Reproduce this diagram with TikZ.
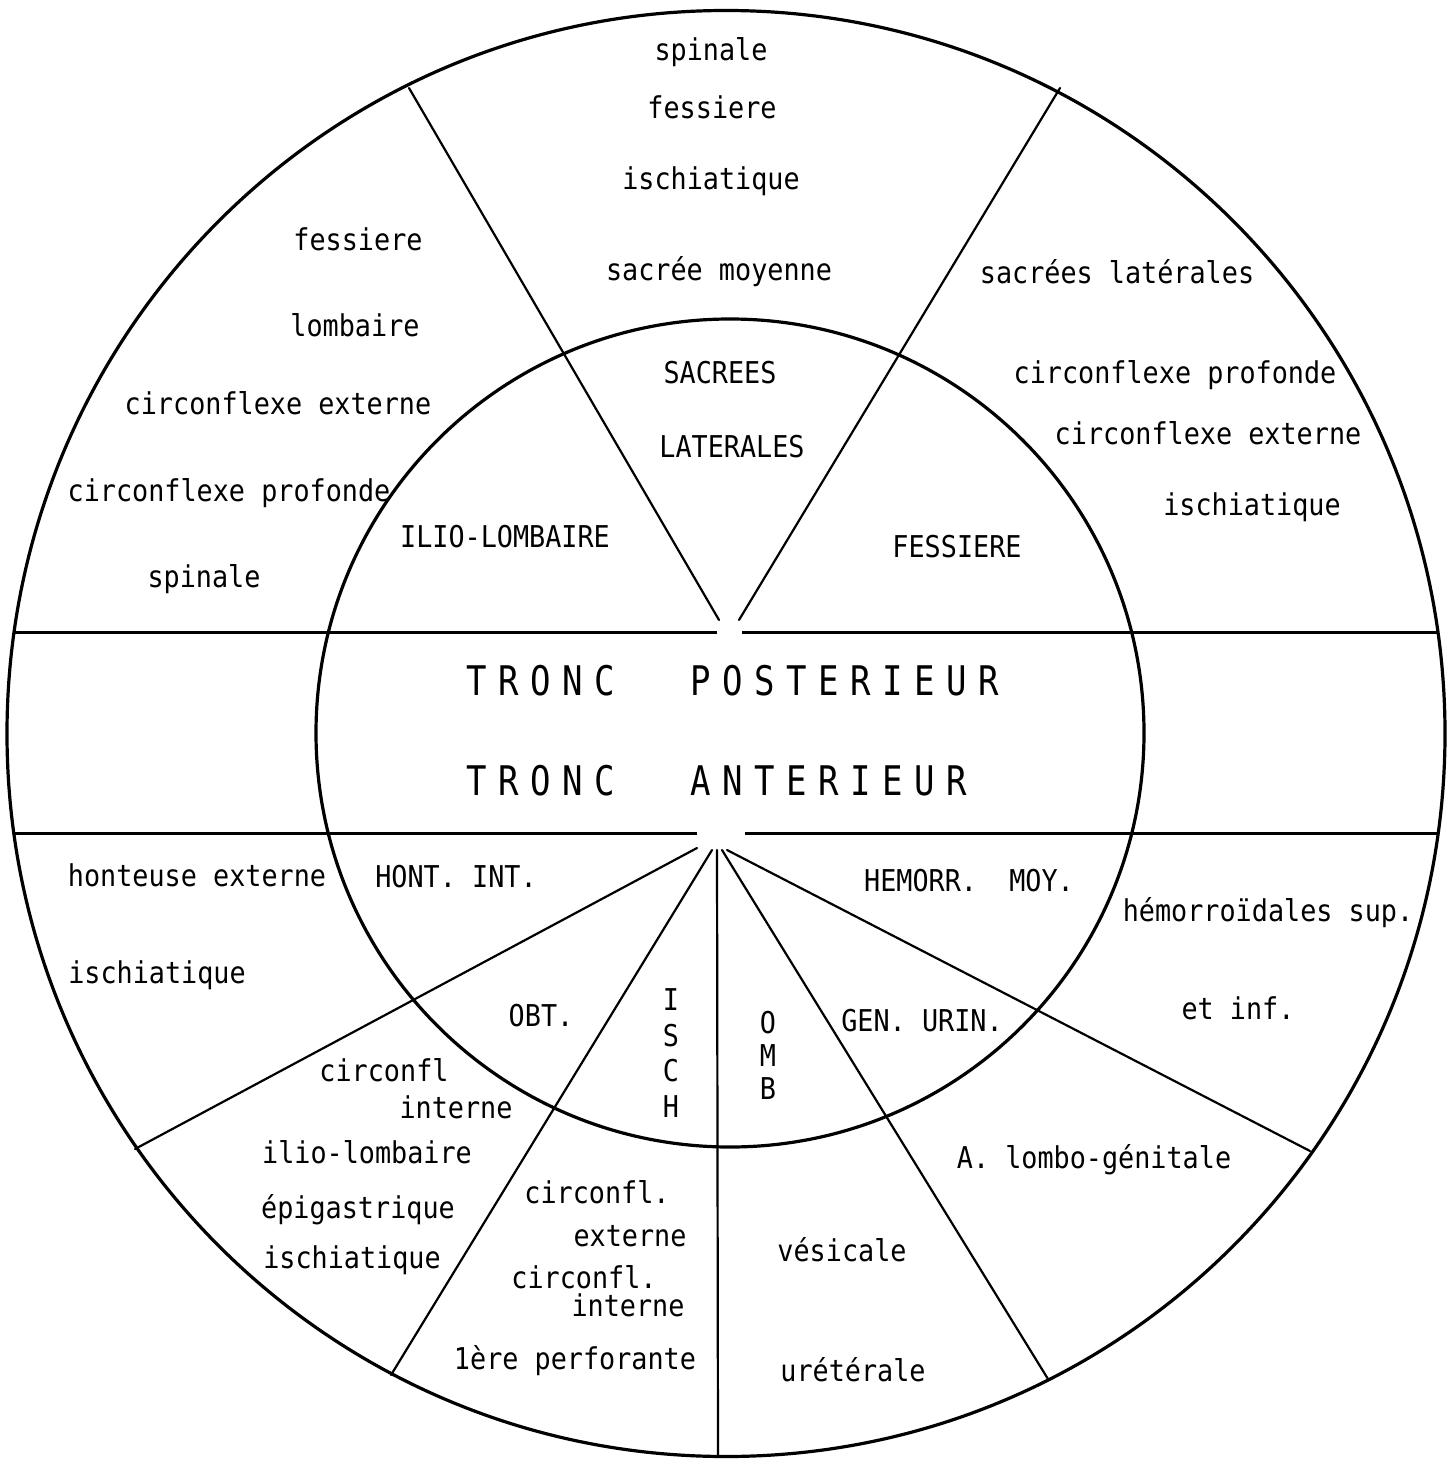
\documentclass[tikz,border=0pt]{standalone}
\usepackage{fontspec}
\newfontfamily\monof{DejaVu Sans Mono}
\newcommand\tx[1]{\scalebox{1}[1.12]{#1}}
\newcommand\ltr[1]{\makebox[16pt]{\scalebox{1}[1.2]{#1}}}
\begin{document}
\begin{tikzpicture}[x=0.5pt,y=-0.5pt,
  ring/.style={line width=1.6pt},
  sepline/.style={line width=1.5pt},
  ray/.style={line width=1.1pt, line cap=round},
  lbl/.style={inner sep=0pt, font=\monof\fontsize{13.4pt}{17.5pt}\selectfont, text height=11pt, text depth=0pt},
  vlbl/.style={inner sep=0pt, align=center, font=\monof\fontsize{13.4pt}{17.8pt}\selectfont},
  big/.style={inner sep=0pt, font=\monof\fontsize{17pt}{20pt}\selectfont, text height=15pt, text depth=0pt}]
\useasboundingbox (0,0) rectangle (1455,1460);
% circles
\coordinate (oc) at (726,733.5);
\coordinate (ic) at (730,733);
\draw[ring] (oc) ellipse [x radius=359.5pt, y radius=361.5pt];
\draw[ring] (ic) circle [radius=207pt];
% horizontal lines
\coordinate (h1a) at (14,632);  \coordinate (h1b) at (717,632);
\coordinate (h1c) at (742,632); \coordinate (h1d) at (1438,632);
\coordinate (h2a) at (14,833);  \coordinate (h2b) at (697,833);
\coordinate (h2c) at (745,833); \coordinate (h2d) at (1438,833);
\draw[sepline] (h1a) -- (h1b);
\draw[sepline] (h1c) -- (h1d);
\draw[sepline] (h2a) -- (h2b);
\draw[sepline] (h2c) -- (h2d);
% upper rays
\coordinate (u1s) at (719,620);  \coordinate (u1e) at (409,88);
\coordinate (u2s) at (739,620);  \coordinate (u2e) at (1060,88);
\draw[ray] (u1s) -- (u1e);
\draw[ray] (u2s) -- (u2e);
% lower rays
\coordinate (l1s) at (697,848); \coordinate (l1e) at (135,1149);
\coordinate (l2s) at (712,850); \coordinate (l2e) at (391,1375);
\coordinate (l3s) at (717,850); \coordinate (l3e) at (718,1457);
\coordinate (l4s) at (722,850); \coordinate (l4e) at (1048,1379);
\coordinate (l5s) at (727,850); \coordinate (l5e) at (1310,1151);
\draw[ray] (l1s) -- (l1e);
\draw[ray] (l2s) -- (l2e);
\draw[ray] (l3s) -- (l3e);
\draw[ray] (l4s) -- (l4e);
\draw[ray] (l5s) -- (l5e);
% central text
\node[big] (tp) at (733,680) {\ltr T\ltr R\ltr O\ltr N\ltr C\ltr{}\ltr{}\ltr P\ltr O\ltr S\ltr T\ltr E\ltr R\ltr I\ltr E\ltr U\ltr R};
\node[big] (ta) at (717,780) {\ltr T\ltr R\ltr O\ltr N\ltr C\ltr{}\ltr{}\ltr A\ltr N\ltr T\ltr E\ltr R\ltr I\ltr E\ltr U\ltr R};
% inner upper
\node[lbl] (sacA) at (720,372) {\tx{SACREES}};
\node[lbl] (sacB) at (732,446) {\tx{LATERALES}};
\node[lbl] (ilio) at (505,536) {\tx{ILIO-LOMBAIRE}};
\node[lbl] (fess) at (957,546) {\tx{FESSIERE}};
% outer upper left
\node[lbl] (ul1) at (358,240) {\tx{fessiere}};
\node[lbl] (ul2) at (355,325) {\tx{lombaire}};
\node[lbl] (ul3) at (278,404) {\tx{circonflexe externe}};
\node[lbl] (ul4) at (229,490) {\tx{circonflexe profonde}};
\node[lbl] (ul5) at (204,576) {\tx{spinale}};
% outer upper middle
\node[lbl] (um1) at (711,50) {\tx{spinale}};
\node[lbl] (um2) at (712,108) {\tx{fessiere}};
\node[lbl] (um3) at (711,179) {\tx{ischiatique}};
\node[lbl] (um4) at (719,270) {\tx{sacrée moyenne}};
% outer upper right
\node[lbl] (ur1) at (1117,273) {\tx{sacrées latérales}};
\node[lbl] (ur2) at (1175,372) {\tx{circonflexe profonde}};
\node[lbl] (ur3) at (1208,433) {\tx{circonflexe externe}};
\node[lbl] (ur4) at (1252,504) {\tx{ischiatique}};
% inner lower
\node[lbl] (hont) at (456,876) {\tx{HONT. INT.}};
\node[lbl] (obt) at (541,1015) {\tx{OBT.}};
\node[vlbl] (isch) at (671,1053) {\tx{I}\\\tx{S}\\\tx{C}\\\tx{H}};
\node[vlbl, font=\monof\fontsize{13.4pt}{16.5pt}\selectfont] (omb) at (768,1055) {\tx{O}\\\tx{M}\\\tx{B}};
\node[lbl] (gen) at (922,1020) {\tx{GEN. URIN.}};
\node[lbl] (hem) at (969,880) {\tx{HEMORR.\ \ MOY.}};
% outer lower left
\node[lbl] (ll1) at (197,875) {\tx{honteuse externe}};
\node[lbl] (ll2) at (157,972) {\tx{ischiatique}};
% outer lower OBT
\node[lbl] (lo1) at (384,1070) {\tx{circonfl}};
\node[lbl] (lo2) at (456,1107) {\tx{interne}};
\node[lbl] (lo3) at (367,1152) {\tx{ilio-lombaire}};
\node[lbl] (lo4) at (358,1207) {\tx{épigastrique}};
\node[lbl] (lo5) at (352,1257) {\tx{ischiatique}};
% outer lower ISCH
\node[lbl] (li1) at (597,1192) {\tx{circonfl.}};
\node[lbl] (li2) at (630,1235) {\tx{externe}};
\node[lbl] (li3) at (584,1277) {\tx{circonfl.}};
\node[lbl] (li4) at (628,1305) {\tx{interne}};
\node[lbl] (li5) at (575,1358) {\tx{1ère perforante}};
% outer lower OMB
\node[lbl] (lm1) at (842,1250) {\tx{vésicale}};
\node[lbl] (lm2) at (853,1370) {\tx{urétérale}};
% outer lower GEN
\node[lbl] (lg1) at (1094,1157) {\tx{A. lombo-génitale}};
% outer lower HEMORR
\node[lbl] (lh1) at (1268,910) {\tx{hémorroïdales sup.}};
\node[lbl] (lh2) at (1238,1008) {\tx{et inf.}};
\end{tikzpicture}
\end{document}
